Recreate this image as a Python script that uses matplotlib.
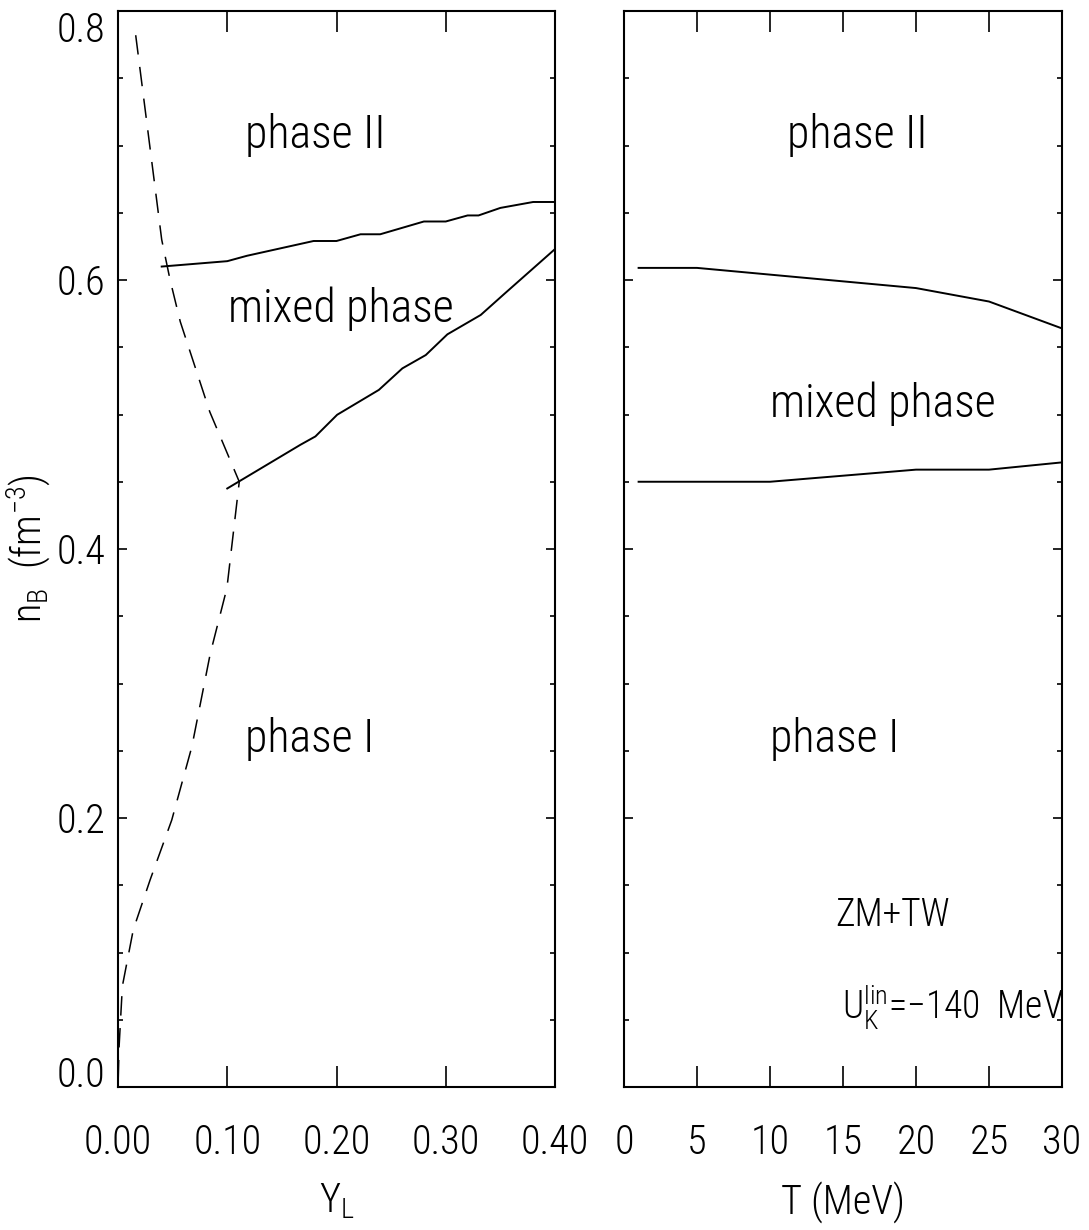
import matplotlib
matplotlib.use("Agg")
import matplotlib.pyplot as plt
from matplotlib.ticker import MultipleLocator, FixedLocator

plt.rcParams['font.family'] = ['Roboto Condensed', 'DejaVu Sans']
plt.rcParams['font.stretch'] = 'condensed'
plt.rcParams['font.weight'] = 'light'
plt.rcParams['axes.labelweight'] = 'light'
plt.rcParams['mathtext.default'] = 'regular'
plt.rcParams['lines.scale_dashes'] = False

# ---- data: left panel (n_B vs Y_L) ----
yl_dash = [0.0162, 0.040, 0.0477, 0.057, 0.084, 0.111, 0.0997, 0.0844, 0.0676,
           0.0492, 0.0294, 0.014, 0.004, 0.001, 0.0]
nb_dash = [0.782, 0.630, 0.600, 0.569, 0.502, 0.450, 0.371, 0.322, 0.253,
           0.1985, 0.154, 0.117, 0.075, 0.03, 0.0]

yl_upper = [0.04, 0.10, 0.118, 0.179, 0.20, 0.222, 0.24, 0.28, 0.30, 0.32,
            0.33, 0.35, 0.38, 0.40]
nb_upper = [0.610, 0.614, 0.618, 0.629, 0.629, 0.634, 0.634, 0.6435, 0.6435,
            0.648, 0.648, 0.6536, 0.658, 0.658]

yl_lower = [0.100, 0.167, 0.1807, 0.2006, 0.2388, 0.2603, 0.2817, 0.3015,
            0.332, 0.3535, 0.40]
nb_lower = [0.445, 0.4775, 0.4837, 0.4998, 0.5183, 0.5343, 0.5442, 0.5596,
            0.574, 0.5896, 0.623]

# ---- data: right panel (n_B vs T) ----
T_vals = [1, 5, 10, 15, 20, 25, 30]
nb_T_upper = [0.609, 0.609, 0.604, 0.599, 0.594, 0.584, 0.564]
nb_T_lower = [0.450, 0.450, 0.450, 0.4545, 0.459, 0.459, 0.4644]

yticks = [0.0, 0.2, 0.4, 0.6, 0.8]
ytick_labels = ['0.0', '0.2', '0.4', '0.6', '0.8']
xticks_left = [0.0, 0.1, 0.2, 0.3, 0.4]
xtick_labels_left = ['0.00', '0.10', '0.20', '0.30', '0.40']
xticks_right = [0, 5, 10, 15, 20, 25, 30]
xtick_labels_right = ['0', '5', '10', '15', '20', '25', '30']

fig = plt.figure(figsize=(10.89, 12.30), dpi=100)
axL = fig.add_axes([118/1089, 1-1087/1230, (555-118)/1089, (1087-11)/1230])
axR = fig.add_axes([624/1089, 1-1087/1230, (1062-624)/1089, (1087-11)/1230])

LW = 1.4
TICKFS = 29
PHASEFS = 33
NOTEFS = 27

for ax in (axL, axR):
    ax.set_ylim(0.0, 0.8)
    for s in ax.spines.values():
        s.set_linewidth(1.5)
    ax.yaxis.set_major_locator(FixedLocator(yticks))
    ax.yaxis.set_minor_locator(MultipleLocator(0.05))
    ax.tick_params(axis='y', which='major', direction='in', length=6.5, width=1.2,
                   left=True, right=True, labelsize=TICKFS, pad=9)
    ax.tick_params(axis='y', which='minor', direction='in', length=3.5, width=1.2,
                   left=True, right=True)
    ax.tick_params(axis='x', which='major', direction='in', length=15, width=1.2,
                   top=True, bottom=True, labelsize=TICKFS, pad=26)
    ax.tick_params(axis='x', which='minor', bottom=False, top=False)

# left panel
axL.plot(yl_dash, nb_dash, color='black', lw=1.1, dashes=(14, 9))
axL.plot(yl_upper, nb_upper, color='black', lw=LW)
axL.plot(yl_lower, nb_lower, color='black', lw=LW)
axL.set_xlim(0.0, 0.4)
axL.set_xticks(xticks_left, xtick_labels_left)
axL.set_yticks(yticks, ytick_labels)
for lbl in axL.get_yticklabels():
    if lbl.get_text() == '0.8':
        lbl.set_va('top')
    elif lbl.get_text() == '0.0':
        lbl.set_va('baseline')
axL.set_xlabel(r'Y$_L$', fontsize=TICKFS, labelpad=14, fontweight='light')
axL.set_ylabel(r'n$_B$  (fm$^{-3}$)', fontsize=TICKFS, labelpad=3, fontweight='light')

axL.text(0.181, 0.698, 'phase II', fontsize=PHASEFS, ha='center', va='baseline')
axL.text(0.204, 0.569, 'mixed phase', fontsize=PHASEFS, ha='center', va='baseline')
axL.text(0.175, 0.249, 'phase I', fontsize=PHASEFS, ha='center', va='baseline')

# right panel
axR.plot(T_vals, nb_T_upper, color='black', lw=LW)
axR.plot(T_vals, nb_T_lower, color='black', lw=LW)
axR.set_xlim(0, 30)
axR.set_xticks(xticks_right, xtick_labels_right)
axR.set_yticks(yticks)
axR.tick_params(axis='y', labelleft=False)
axR.set_xlabel('T (MeV)', fontsize=TICKFS, labelpad=14, fontweight='light')

axR.text(15.96, 0.698, 'phase II', fontsize=PHASEFS, ha='center', va='baseline')
axR.text(17.74, 0.4985, 'mixed phase', fontsize=PHASEFS, ha='center', va='baseline')
axR.text(14.45, 0.249, 'phase I', fontsize=PHASEFS, ha='center', va='baseline')
axR.text(18.4, 0.12, 'ZM+TW', fontsize=NOTEFS, ha='center', va='baseline')
axR.text(14.9, 0.0504, r'U$_K^{lin}$=$-$140  MeV', fontsize=NOTEFS, ha='left', va='baseline')

fig.savefig('out.png', dpi=100)
